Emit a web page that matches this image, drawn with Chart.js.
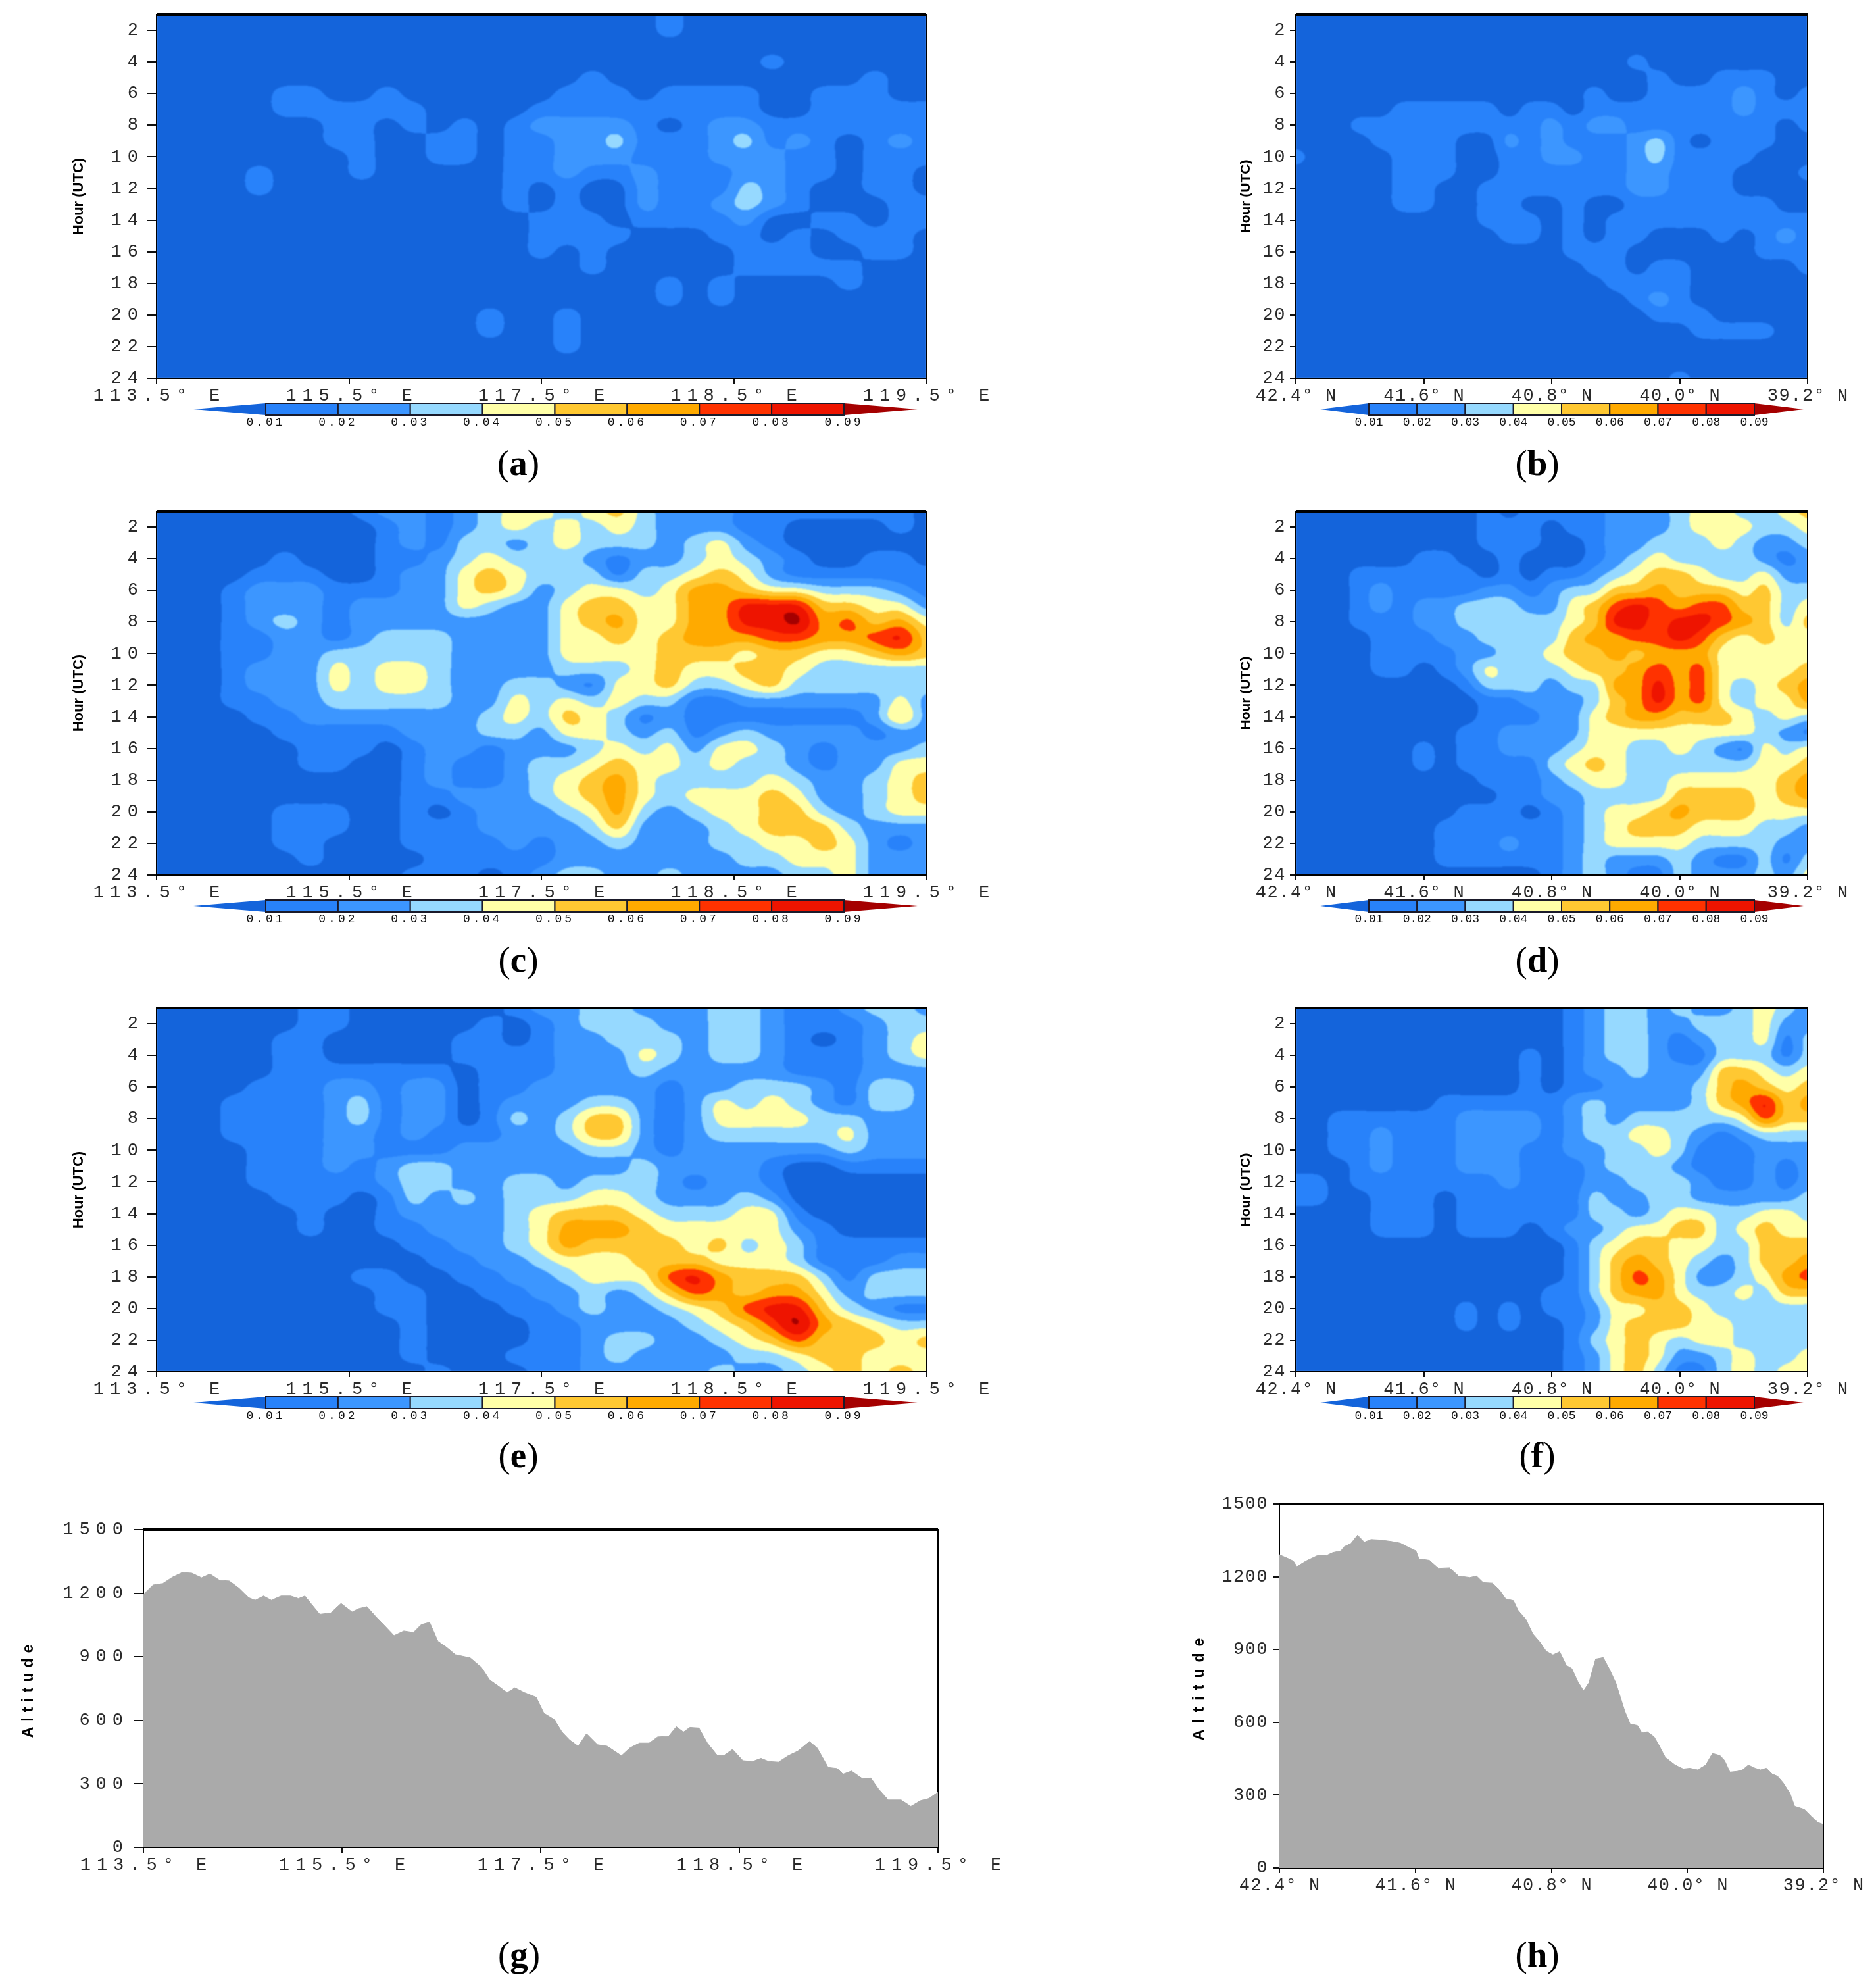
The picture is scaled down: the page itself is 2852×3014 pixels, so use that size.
<!DOCTYPE html>
<html>
<head>
<meta charset="utf-8">
<title>Hour-distance sections</title>
<script src="https://cdn.jsdelivr.net/npm/chart.js@4"></script>
<style>
  html, body { margin: 0; background: #fff; }
  #page { position: relative; width: 2852px; height: 3014px; overflow: hidden; }
  canvas { position: absolute; }
  .tag { position: absolute; transform: translate(-50%, -50%); font: 55px "Liberation Serif", serif; color: #000; }
</style>
</head>
<body>
<div id="page"></div>
<script>
// tick labels
const lonLabels = ['113.5° E', '115.5° E', '117.5° E', '118.5° E', '119.5° E'];
const latLabels = ['42.4° N', '41.6° N', '40.8° N', '40.0° N', '39.2° N'];
const hourTicks = [2, 4, 6, 8, 10, 12, 14, 16, 18, 20, 22, 24];
const altTicks = [0, 300, 600, 900, 1200, 1500];

// colour scale
const levels = [0.01, 0.02, 0.03, 0.04, 0.05, 0.06, 0.07, 0.08, 0.09];
const bandColors = ['#1464db', '#2882fa', '#3c96ff', '#96d9ff', '#ffffa8', '#ffc832', '#ffaa00', '#ff3200', '#ee1400', '#a50000'];

// one row per hour (1..24), one column per grid step along the section
// each number is the contour band: 3 means 0.03-0.04
const panelA = [
  [0,0,0,0,0,0,0,0,0,0, 0,0,0,0,0,0,0,0,0,0, 1,0,0,0,0,0,0,0,0,0, 0],
  [0,0,0,0,0,0,0,0,0,0, 0,0,0,0,0,0,0,0,0,0, 1,0,0,0,0,0,0,0,0,0, 0],
  [0,0,0,0,0,0,0,0,0,0, 0,0,0,0,0,0,0,0,0,0, 0,0,0,0,0,0,0,0,0,0, 0],
  [0,0,0,0,0,0,0,0,0,0, 0,0,0,0,0,0,0,0,0,0, 0,0,0,0,1,0,0,0,0,0, 0],
  [0,0,0,0,0,0,0,0,0,0, 0,0,0,0,0,0,0,1,0,0, 0,0,0,0,0,0,0,0,1,0, 0],
  [0,0,0,0,0,1,1,0,0,1, 0,0,0,0,0,0,1,1,1,0, 1,1,1,1,0,0,1,1,1,0, 0],
  [0,0,0,0,0,1,1,1,1,1, 1,0,0,0,0,1,1,1,1,1, 1,1,1,1,0,0,1,1,1,1, 1],
  [0,0,0,0,0,0,0,1,1,0, 1,0,1,0,1,2,2,2,2,1, 0,1,2,2,1,1,1,1,1,1, 1],
  [0,0,0,0,0,0,0,1,1,0, 0,1,1,0,1,1,2,2,3,1, 1,1,2,3,1,2,1,0,1,2, 1],
  [0,0,0,0,0,0,0,0,1,0, 0,1,1,0,1,1,2,2,2,1, 1,1,2,2,2,1,1,0,1,1, 1],
  [0,0,0,0,1,0,0,0,1,0, 0,0,0,0,1,1,2,1,1,2, 1,1,1,2,2,1,1,0,1,1, 0],
  [0,0,0,0,1,0,0,0,0,0, 0,0,0,0,1,0,1,0,0,2, 1,1,1,3,2,1,0,0,1,1, 0],
  [0,0,0,0,0,0,0,0,0,0, 0,0,0,0,1,0,1,0,0,2, 1,1,2,3,2,1,0,0,0,1, 1],
  [0,0,0,0,0,0,0,0,0,0, 0,0,0,0,0,1,1,1,0,1, 1,1,1,2,0,0,1,1,0,1, 1],
  [0,0,0,0,0,0,0,0,0,0, 0,0,0,0,0,1,1,1,1,0, 0,0,1,1,0,1,0,1,1,1, 0],
  [0,0,0,0,0,0,0,0,0,0, 0,0,0,0,0,1,0,1,0,0, 0,0,0,1,1,1,0,0,1,1, 0],
  [0,0,0,0,0,0,0,0,0,0, 0,0,0,0,0,0,0,1,0,0, 0,0,0,1,1,1,1,1,0,0, 0],
  [0,0,0,0,0,0,0,0,0,0, 0,0,0,0,0,0,0,0,0,0, 1,0,1,0,0,0,0,1,0,0, 0],
  [0,0,0,0,0,0,0,0,0,0, 0,0,0,0,0,0,0,0,0,0, 1,0,1,0,0,0,0,0,0,0, 0],
  [0,0,0,0,0,0,0,0,0,0, 0,0,0,1,0,0,1,0,0,0, 0,0,0,0,0,0,0,0,0,0, 0],
  [0,0,0,0,0,0,0,0,0,0, 0,0,0,1,0,0,1,0,0,0, 0,0,0,0,0,0,0,0,0,0, 0],
  [0,0,0,0,0,0,0,0,0,0, 0,0,0,0,0,0,1,0,0,0, 0,0,0,0,0,0,0,0,0,0, 0],
  [0,0,0,0,0,0,0,0,0,0, 0,0,0,0,0,0,0,0,0,0, 0,0,0,0,0,0,0,0,0,0, 0],
  [0,0,0,0,0,0,0,0,0,0, 0,0,0,0,0,0,0,0,0,0, 0,0,0,0,0,0,0,0,0,0, 0]
];
const panelB = [
  [0,0,0,0,0,0,0,0,0,0, 0,0,0,0,0,0,0,0,0,0, 0,0,0,0,0],
  [0,0,0,0,0,0,0,0,0,0, 0,0,0,0,0,0,0,0,0,0, 0,0,0,0,0],
  [0,0,0,0,0,0,0,0,0,0, 0,0,0,0,0,0,0,0,0,0, 0,0,0,0,0],
  [0,0,0,0,0,0,0,0,0,0, 0,0,0,0,0,0,1,0,0,0, 0,0,0,0,0],
  [0,0,0,0,0,0,0,0,0,0, 0,0,0,0,0,0,0,1,0,0, 1,1,1,0,0],
  [0,0,0,0,0,0,0,0,0,0, 0,0,0,0,1,0,0,1,1,1, 1,2,1,0,1],
  [0,0,0,0,0,1,1,1,1,1, 0,1,1,0,1,1,1,1,1,1, 1,2,1,1,1],
  [0,0,0,1,1,1,1,1,1,1, 1,1,2,1,2,2,1,1,1,1, 1,1,1,0,1],
  [0,0,0,0,1,1,1,1,0,0, 2,1,2,1,1,1,2,3,1,0, 1,1,1,0,0],
  [1,0,0,0,0,1,1,1,0,0, 1,1,2,2,1,1,2,3,1,1, 1,1,0,0,0],
  [0,0,0,0,0,1,1,1,0,0, 1,1,1,1,1,1,2,2,1,1, 1,0,0,0,1],
  [0,0,0,0,0,1,1,0,0,1, 1,1,1,1,1,1,2,2,1,1, 1,0,0,0,0],
  [0,0,0,0,0,1,1,0,0,1, 1,0,0,1,0,0,1,1,1,1, 1,1,1,0,0],
  [0,0,0,0,0,0,0,0,0,1, 1,1,0,1,0,1,1,1,1,1, 1,1,1,1,1],
  [0,0,0,0,0,0,0,0,0,0, 1,1,0,1,0,1,1,0,0,0, 1,0,1,2,1],
  [0,0,0,0,0,0,0,0,0,0, 0,0,0,1,1,1,0,0,0,0, 0,0,1,1,1],
  [0,0,0,0,0,0,0,0,0,0, 0,0,0,0,1,1,0,1,1,0, 0,0,0,0,1],
  [0,0,0,0,0,0,0,0,0,0, 0,0,0,0,0,1,1,1,1,0, 0,0,0,0,0],
  [0,0,0,0,0,0,0,0,0,0, 0,0,0,0,0,0,1,2,1,0, 0,0,0,0,0],
  [0,0,0,0,0,0,0,0,0,0, 0,0,0,0,0,0,0,1,1,1, 0,0,0,0,0],
  [0,0,0,0,0,0,0,0,0,0, 0,0,0,0,0,0,0,0,0,1, 1,1,1,0,0],
  [0,0,0,0,0,0,0,0,0,0, 0,0,0,0,0,0,0,0,0,0, 0,0,0,0,0],
  [0,0,0,0,0,0,0,0,0,0, 0,0,0,0,0,0,0,0,0,0, 0,0,0,0,0],
  [0,0,0,0,0,0,0,0,0,0, 0,0,0,0,0,0,0,0,1,0, 0,0,0,0,0]
];
const panelC = [
  [0,0,0,0,0,0,0,0,1,2, 2,1,2,3,4,4,3,4,5,3, 2,2,2,1,1,1,1,1,1,1, 0],
  [0,0,0,0,0,0,0,0,0,1, 2,1,2,3,4,3,4,3,4,3, 2,2,2,1,1,0,0,0,0,1, 0],
  [0,0,0,0,0,0,0,0,0,1, 2,1,3,3,2,3,4,3,3,3, 2,3,4,2,1,0,0,0,0,0, 0],
  [0,0,0,0,0,1,0,0,0,1, 1,2,3,4,3,3,3,2,1,2, 2,3,4,3,2,1,0,0,1,1, 0],
  [0,0,0,0,1,1,1,0,0,1, 2,2,4,5,4,3,3,3,1,3, 3,4,5,4,2,1,1,1,1,1, 1],
  [0,0,0,1,2,2,2,1,1,1, 2,2,4,5,4,2,3,4,4,3, 4,6,6,5,4,4,3,3,3,2, 1],
  [0,0,0,1,2,2,2,1,2,2, 2,2,4,3,2,2,4,5,5,4, 4,6,6,8,8,8,5,5,4,4, 2],
  [0,0,0,1,2,3,2,1,2,2, 2,2,2,2,2,2,4,5,6,4, 4,6,6,8,8,9,6,7,5,6, 4],
  [0,0,0,1,1,2,2,1,2,3, 3,3,2,2,2,2,4,4,5,4, 5,6,6,6,7,7,6,6,7,8, 5],
  [0,0,0,1,1,2,2,3,3,3, 3,3,2,2,2,2,4,4,4,4, 5,5,5,4,5,5,4,4,5,6, 5],
  [0,0,0,1,2,2,2,4,3,4, 4,3,2,2,2,2,3,3,3,4, 5,4,4,5,5,4,3,3,3,3, 3],
  [0,0,0,1,2,2,2,4,3,4, 4,3,2,2,3,3,2,1,4,4, 5,3,3,4,5,3,3,3,3,3, 3],
  [0,0,0,1,1,2,2,3,3,3, 3,3,2,2,4,3,4,3,4,3, 3,1,1,2,2,2,2,2,2,4, 2],
  [0,0,0,0,1,1,2,2,2,2, 2,2,2,3,4,3,5,4,3,1, 2,1,1,1,1,1,1,1,2,5, 2],
  [0,0,0,0,0,1,1,1,1,1, 2,2,2,3,3,2,4,4,3,2, 3,1,2,3,2,2,2,2,1,2, 2],
  [0,0,0,0,0,0,1,1,1,0, 1,2,2,1,2,2,2,3,4,3, 4,2,4,4,3,2,1,2,2,2, 3],
  [0,0,0,0,0,0,1,1,0,0, 1,2,1,1,2,3,3,4,5,4, 4,3,4,3,3,2,1,2,2,4, 4],
  [0,0,0,0,0,0,0,0,0,0, 1,2,1,1,2,3,4,5,6,4, 3,3,3,3,4,3,2,2,3,4, 5],
  [0,0,0,0,0,0,0,0,0,0, 1,1,2,2,2,3,4,5,6,4, 3,4,4,4,5,4,2,2,3,4, 5],
  [0,0,0,0,0,1,1,1,0,0, 1,0,1,2,2,2,3,4,6,3, 2,3,4,4,5,5,3,2,3,4, 4],
  [0,0,0,0,0,1,1,1,0,0, 1,1,1,2,2,2,2,3,5,2, 2,2,3,4,5,5,5,3,2,2, 2],
  [0,0,0,0,0,1,1,0,0,0, 1,1,1,1,2,1,2,2,3,2, 2,2,3,3,4,4,5,4,2,1, 2],
  [0,0,0,0,0,0,1,0,0,0, 0,1,1,1,1,1,2,2,2,2, 2,2,2,3,3,4,4,4,2,2, 2],
  [0,0,0,0,0,0,0,0,0,0, 1,1,1,0,1,2,3,3,2,2, 3,2,2,2,2,3,3,4,2,2, 2]
];
const panelD = [
  [0,0,0,0,0,0,0,0,0,1, 0,1,1,1,1,2,2,2,3,4, 4,3,3,4,5],
  [0,0,0,0,0,0,0,0,0,1, 1,1,0,1,1,2,2,2,3,4, 4,4,3,3,4],
  [0,0,0,0,0,0,0,0,0,1, 1,1,0,0,1,2,2,3,3,3, 4,3,2,2,3],
  [0,0,0,0,0,0,1,1,0,0, 1,0,0,0,1,2,3,4,3,3, 3,3,2,1,2],
  [0,0,0,1,1,1,1,1,1,0, 1,0,1,1,2,3,4,5,5,4, 3,3,4,2,2],
  [0,0,0,1,2,1,1,1,1,2, 2,1,2,3,3,5,5,6,5,5, 5,4,5,3,3],
  [0,0,0,1,2,1,2,2,3,3, 3,2,2,4,5,7,8,7,6,7, 7,5,5,3,4],
  [0,0,0,1,1,1,2,2,3,3, 3,3,3,4,5,8,8,7,8,8, 7,6,5,3,5],
  [0,0,0,0,1,1,1,2,2,3, 3,3,3,5,6,6,7,7,8,7, 5,4,5,4,4],
  [0,0,0,0,1,1,1,1,2,2, 3,3,4,5,5,6,5,6,6,6, 4,4,4,4,4],
  [0,0,0,0,1,1,0,1,2,4, 3,3,3,4,5,5,6,7,6,7, 4,4,4,4,5],
  [0,0,0,0,0,0,0,0,1,3, 3,3,2,3,3,6,6,8,6,7, 4,3,4,5,6],
  [0,0,0,0,0,0,0,0,0,1, 1,2,2,2,3,5,6,8,6,7, 4,3,4,4,6],
  [0,0,0,0,0,0,0,0,0,1, 1,1,2,2,4,5,6,6,5,5, 5,4,3,4,3],
  [0,0,0,0,0,0,0,0,1,1, 2,2,2,2,4,4,4,4,4,4, 4,4,3,2,1],
  [0,0,0,0,0,0,1,0,1,1, 2,2,2,3,4,4,3,3,4,3, 2,1,4,3,4],
  [0,0,0,0,0,0,1,0,1,1, 1,1,3,4,5,4,3,3,3,3, 3,3,4,4,5],
  [0,0,0,0,0,0,0,0,0,1, 1,1,2,3,4,4,3,3,4,4, 4,4,4,5,6],
  [0,0,0,0,0,0,0,0,0,0, 1,1,2,2,3,3,3,3,5,5, 5,5,4,5,6],
  [0,0,0,0,0,0,0,0,1,1, 1,0,1,2,3,4,4,5,6,5, 5,5,4,4,4],
  [0,0,0,0,0,0,0,1,1,1, 1,1,1,2,3,4,5,5,5,4, 4,4,3,3,2],
  [0,0,0,0,0,0,0,1,1,1, 2,1,1,2,3,4,4,4,4,3, 3,3,3,2,2],
  [0,0,0,0,0,0,0,1,1,1, 1,1,1,2,3,2,2,2,3,2, 1,1,3,1,3],
  [0,0,0,0,0,0,0,0,0,0, 0,0,1,2,3,2,1,1,3,2, 2,2,3,2,4]
];
const panelE = [
  [0,0,0,0,0,0,1,1,0,0, 0,0,0,0,1,2,2,3,3,2, 2,2,3,3,2,1,1,2,3,3, 2],
  [0,0,0,0,0,0,1,1,0,0, 0,0,0,1,0,1,2,3,3,3, 2,2,3,3,2,1,1,1,2,3, 3],
  [0,0,0,0,0,1,1,0,0,0, 0,0,1,1,0,1,2,2,3,3, 3,2,3,3,2,1,0,1,2,3, 4],
  [0,0,0,0,0,1,1,0,0,0, 0,0,1,1,1,1,2,2,2,4, 3,2,3,3,2,1,1,1,2,3, 4],
  [0,0,0,0,0,1,1,1,1,1, 1,1,0,1,1,1,2,2,2,3, 2,2,2,2,2,1,1,1,2,2, 2],
  [0,0,0,0,1,1,1,2,2,1, 2,2,0,1,1,2,2,2,2,2, 1,2,2,3,3,3,2,1,3,3, 2],
  [0,0,0,1,1,1,1,2,3,1, 2,2,0,1,2,2,2,3,3,2, 1,2,4,3,4,3,2,1,3,3, 2],
  [0,0,0,1,1,1,1,2,3,1, 2,2,0,1,3,2,3,5,5,2, 1,2,4,4,4,4,3,3,2,2, 2],
  [0,0,0,1,1,1,1,2,2,1, 2,1,1,1,2,2,3,5,5,2, 1,2,3,3,3,3,3,4,2,2, 2],
  [0,0,0,0,1,1,1,2,2,1, 1,1,2,2,2,2,2,3,3,2, 1,2,2,2,2,2,2,3,2,2, 2],
  [0,0,0,0,1,1,1,2,1,2, 3,3,2,2,2,2,2,2,2,3, 2,2,2,2,1,0,0,1,1,1, 1],
  [0,0,0,0,1,1,1,1,1,2, 3,3,2,2,3,3,2,3,3,3, 2,1,2,2,1,0,0,0,0,0, 0],
  [0,0,0,0,0,1,1,1,0,1, 3,2,3,2,3,3,3,4,4,3, 2,2,2,3,2,0,0,0,0,0, 0],
  [0,0,0,0,0,0,1,0,0,1, 2,2,2,2,3,4,5,5,5,4, 3,3,3,4,4,1,0,0,0,0, 0],
  [0,0,0,0,0,0,1,0,0,1, 1,2,2,2,3,4,6,6,6,5, 4,4,4,4,4,2,1,0,0,0, 0],
  [0,0,0,0,0,0,0,0,0,0, 1,1,2,2,3,4,6,5,5,5, 5,4,5,3,4,3,1,1,1,1, 1],
  [0,0,0,0,0,0,0,0,0,0, 0,1,1,2,2,3,4,4,4,5, 5,5,4,4,4,3,1,1,1,2, 2],
  [0,0,0,0,0,0,0,0,1,1, 0,0,1,1,2,2,3,4,4,4, 7,8,6,5,5,5,3,1,3,3, 3],
  [0,0,0,0,0,0,0,0,0,1, 1,0,0,1,1,2,2,3,2,3, 5,7,6,5,6,6,4,2,3,3, 3],
  [0,0,0,0,0,0,0,0,0,1, 1,0,0,0,1,1,2,3,2,2, 3,4,5,7,8,8,5,3,2,1, 1],
  [0,0,0,0,0,0,0,0,0,0, 1,0,0,0,0,1,1,2,2,2, 2,3,4,5,7,9,6,5,4,3, 3],
  [0,0,0,0,0,0,0,0,0,0, 1,0,0,0,0,1,1,2,3,3, 2,2,3,4,5,7,5,5,5,4, 5],
  [0,0,0,0,0,0,0,0,0,0, 1,0,0,0,1,1,1,2,3,2, 2,2,2,3,3,4,5,5,4,4, 4],
  [0,0,0,0,0,0,0,0,0,0, 0,1,0,0,0,1,1,2,2,2, 2,2,3,2,2,3,4,5,4,5, 4]
];
const panelF = [
  [0,0,0,0,0,0,0,0,0,0, 0,0,0,1,2,3,3,2,3,2, 2,3,4,3,2],
  [0,0,0,0,0,0,0,0,0,0, 0,0,0,1,2,3,3,2,2,3, 3,3,4,2,2],
  [0,0,0,0,0,0,0,0,0,0, 0,0,0,1,2,3,3,2,1,2, 3,3,4,1,3],
  [0,0,0,0,0,0,0,0,0,0, 0,1,0,1,2,3,3,2,1,1, 3,3,3,1,3],
  [0,0,0,0,0,0,0,0,0,0, 0,1,0,1,2,2,3,2,2,2, 5,5,4,3,4],
  [0,0,0,0,0,0,0,0,0,0, 0,1,0,1,1,2,2,2,2,3, 5,6,5,4,5],
  [0,0,0,0,0,0,0,1,1,1, 1,1,1,2,3,2,2,2,2,3, 5,6,8,5,6],
  [0,0,1,1,1,1,1,1,2,2, 2,2,1,2,3,2,3,3,3,3, 3,4,7,5,5],
  [0,0,1,1,2,1,1,1,2,2, 2,2,1,2,3,3,4,4,3,2, 1,2,3,3,3],
  [0,0,1,1,2,1,1,1,2,2, 2,1,1,2,2,3,3,4,3,1, 1,1,2,2,2],
  [0,0,0,1,2,1,1,1,2,2, 2,1,1,1,2,3,3,3,2,1, 1,1,2,1,2],
  [1,1,0,1,1,1,1,1,1,1, 2,1,1,1,2,2,3,3,3,2, 1,1,2,1,2],
  [1,1,0,0,1,1,1,0,1,1, 1,1,1,1,3,2,2,3,3,2, 2,2,2,2,3],
  [0,0,0,0,1,1,1,0,1,1, 1,1,1,1,3,3,2,3,4,4, 3,3,4,4,3],
  [0,0,0,0,1,1,1,0,1,1, 1,0,1,2,2,3,4,4,5,5, 3,4,5,4,4],
  [0,0,0,0,0,0,0,0,0,0, 0,0,0,1,3,4,5,5,4,4, 3,3,5,5,5],
  [0,0,0,0,0,0,0,0,0,0, 0,0,0,1,3,5,6,5,4,3, 2,3,5,5,6],
  [0,0,0,0,0,0,0,0,0,0, 0,0,0,1,3,5,7,6,4,2, 2,3,4,6,7],
  [0,0,0,0,0,0,0,0,0,0, 0,0,1,1,3,5,6,6,4,3, 3,4,3,5,5],
  [0,0,0,0,0,0,0,0,1,0, 1,0,1,1,2,4,4,5,5,4, 3,3,3,3,3],
  [0,0,0,0,0,0,0,0,1,0, 1,0,0,1,2,4,5,5,5,4, 4,3,3,3,3],
  [0,0,0,0,0,0,0,0,0,0, 0,0,0,1,3,4,5,4,3,4, 4,3,3,3,3],
  [0,0,0,0,0,0,0,0,0,0, 0,0,0,1,2,4,5,4,2,2, 3,4,3,3,4],
  [0,0,0,0,0,0,0,0,0,0, 0,0,0,1,2,4,5,3,1,1, 3,4,3,4,4]
];

// terrain profiles: steps along the section and altitude (m)
const terrainGSteps = [0,15,30,45,60,75,90,103,118,133,148,163,173,186,198,213,228,240,250,260,273,290,306,323,333,346,360,374,388,403,418,430,443,456,468,483,506,523,536,550,563,575,590,608,620,636,648,660,673,686,703,718,740,753,768,783,796,813,825,836,846,860,873,888,898,912,928,943,956,968,983,998,1013,1031,1043,1060,1074,1083,1096,1113,1126,1138,1153,1173,1188,1203,1216,1230];
const terrainG = [1194,1239,1246,1276,1298,1295,1273,1291,1261,1258,1224,1179,1167,1187,1167,1187,1187,1175,1187,1149,1101,1107,1152,1112,1127,1137,1089,1045,1000,1022,1015,1052,1063,973,948,910,895,851,791,761,731,754,731,709,634,604,545,507,478,537,485,478,433,470,493,493,522,525,570,545,567,564,493,436,433,463,410,406,421,406,403,433,455,500,470,378,373,346,361,325,328,276,224,224,194,221,231,261];
const terrainHSteps = [0,21,31,39,59,84,104,119,137,144,159,174,189,204,224,249,269,289,304,311,334,354,379,399,424,439,454,474,489,504,521,531,549,564,579,594,609,624,639,651,664,677,689,704,721,734,749,769,781,797,807,819,834,844,859,881,899,914,931,949,964,981,991,1003,1019,1031,1044,1059,1071,1084,1097,1109,1121,1137,1147,1169,1184,1199,1211];
const terrainH = [1291,1274,1265,1242,1265,1287,1287,1300,1307,1324,1337,1372,1343,1354,1352,1346,1339,1320,1307,1274,1268,1235,1237,1203,1197,1203,1176,1174,1148,1109,1102,1063,1024,965,933,893,878,891,835,822,770,730,763,861,867,822,763,646,593,587,557,561,541,509,456,424,408,411,404,424,472,463,443,395,398,404,424,411,404,411,387,378,352,306,254,241,213,187,179];

const rgb = bandColors.map(c => [1, 3, 5].map(i => parseInt(c.slice(i, i + 2), 16)));

// mix of catmull-rom and b-spline: follows the grid but rounds off the corners
function cubic(a, b, c, d, t) {
  const t2 = t * t, t3 = t2 * t;
  const cr = b + 0.5 * t * (c - a + t * (2 * a - 5 * b + 4 * c - d + t * (3 * (b - c) + d - a)));
  const bs = ((1 - t) * (1 - t) * (1 - t) * a + (3 * t3 - 6 * t2 + 4) * b + (-3 * t3 + 3 * t2 + 3 * t + 1) * c + t3 * d) / 6;
  return 0.6 * cr + 0.4 * bs;
}
function sampleGrid(grid, row, col) {
  const nr = grid.length, nc = grid[0].length;
  const r0 = Math.min(Math.floor(row), nr - 2), c0 = Math.min(Math.floor(col), nc - 2);
  const tr = row - r0, tc = col - c0;
  const rows = [];
  for (let r = r0 - 1; r <= r0 + 2; r++) {
    const line = grid[Math.max(0, Math.min(nr - 1, r))];
    const at = c => line[Math.max(0, Math.min(nc - 1, c))] + 0.5;
    rows.push(cubic(at(c0 - 1), at(c0), at(c0 + 1), at(c0 + 2), tc));
  }
  return cubic(rows[0], rows[1], rows[2], rows[3], tr);
}

function drawContours(chart, grid) {
  const { left, top, width, height } = chart.chartArea;
  const xs = chart.scales.x, ys = chart.scales.y;
  const nc = grid[0].length;
  const off = document.createElement('canvas');
  off.width = width; off.height = height;
  const octx = off.getContext('2d');
  const img = octx.createImageData(width, height);
  for (let py = 0; py < height; py++) {
    const row = ys.getValueForPixel(top + py + 0.5) - 1;
    for (let px = 0; px < width; px++) {
      const col = xs.getValueForPixel(left + px + 0.5) / 4 * (nc - 1);
      const band = Math.max(0, Math.min(9, Math.floor(sampleGrid(grid, Math.max(0, row), Math.max(0, col)))));
      const k = (py * width + px) * 4;
      img.data[k] = rgb[band][0];
      img.data[k + 1] = rgb[band][1];
      img.data[k + 2] = rgb[band][2];
      img.data[k + 3] = 255;
    }
  }
  octx.putImageData(img, 0, 0);
  const ctx = chart.ctx;
  ctx.save();
  ctx.beginPath();
  ctx.rect(left, top, width, height);
  ctx.clip();
  ctx.filter = 'blur(0.8px)';
  ctx.drawImage(off, left, top);
  ctx.restore();
}

function drawFrame(chart) {
  const { left, right, top, bottom } = chart.chartArea;
  const ctx = chart.ctx;
  ctx.save();
  ctx.strokeStyle = '#000';
  ctx.lineWidth = 2;
  ctx.strokeRect(left, top, right - left, bottom - top);
  ctx.lineWidth = 4;
  ctx.beginPath();
  ctx.moveTo(left, top);
  ctx.lineTo(right, top);
  ctx.stroke();
  ctx.restore();
}

function drawColorbar(chart, bar) {
  const { left, bottom } = chart.chartArea;
  const ctx = chart.ctx;
  const x0 = left + bar.start, x1 = left + bar.end;
  const y0 = bottom + 38, y1 = bottom + 56, ym = (y0 + y1) / 2;
  const step = (x1 - x0) / (levels.length - 1);
  ctx.save();
  ctx.lineWidth = 2;
  ctx.strokeStyle = '#1a1a2a';
  ctx.fillStyle = bandColors[0];
  ctx.beginPath();
  ctx.moveTo(left + bar.tipL, ym); ctx.lineTo(x0, y0); ctx.lineTo(x0, y1); ctx.closePath();
  ctx.fill();
  ctx.fillStyle = bandColors[9];
  ctx.beginPath();
  ctx.moveTo(left + bar.tipR, ym); ctx.lineTo(x1, y0); ctx.lineTo(x1, y1); ctx.closePath();
  ctx.fill();
  for (let i = 0; i < levels.length - 1; i++) {
    ctx.fillStyle = bandColors[i + 1];
    ctx.fillRect(x0 + i * step, y0, step, y1 - y0);
    ctx.strokeRect(x0 + i * step, y0, step, y1 - y0);
  }
  ctx.fillStyle = '#111';
  ctx.font = '18px "Liberation Mono"';
  ctx.letterSpacing = bar.spacing + 'px';
  ctx.textAlign = 'center';
  ctx.textBaseline = 'middle';
  levels.forEach((v, i) => ctx.fillText(v.toFixed(2), x0 + i * step, y1 + 11));
  ctx.restore();
}

// side title drawn here because each one has its own letter spacing
function drawSideTitle(chart, t) {
  const ctx = chart.ctx;
  const a = chart.chartArea;
  ctx.save();
  ctx.translate(t.x, (a.top + a.bottom) / 2);
  ctx.rotate(-Math.PI / 2);
  ctx.font = t.font;
  ctx.letterSpacing = t.spacing + 'px';
  ctx.fillStyle = '#000';
  ctx.textAlign = 'center';
  ctx.textBaseline = 'middle';
  ctx.fillText(t.text, 0, 0);
  ctx.restore();
}

function decorPlugin(cfg) {
  return {
    id: 'decor',
    beforeDraw(chart) { chart.ctx.letterSpacing = cfg.spacing + 'px'; },
    beforeDatasetsDraw(chart) {
      chart.ctx.letterSpacing = '0px';
      if (cfg.grid) drawContours(chart, cfg.grid);
      else drawFrame(chart);
    },
    afterDraw(chart) {
      chart.ctx.letterSpacing = '0px';
      if (cfg.grid) { drawFrame(chart); drawColorbar(chart, cfg.bar); }
      drawSideTitle(chart, cfg.title);
    }
  };
}

function addCanvas(box) {
  const c = document.createElement('canvas');
  c.width = box.padL + box.w + box.padR;
  c.height = box.padT + box.h + box.padB;
  c.style.left = (box.x - box.padL) + 'px';
  c.style.top = (box.y - box.padT) + 'px';
  document.getElementById('page').appendChild(c);
  return c;
}

function axisBase(box, cfg, tickValues, label, isX) {
  return {
    type: 'linear',
    afterBuildTicks: s => { s.ticks = tickValues.map(v => ({ value: v })); },
    afterFit: s => {
      if (isX) s.height = box.padB; else s.width = box.padL;
      s.paddingTop = s.paddingBottom = s.paddingLeft = s.paddingRight = 0;
    },
    border: { display: false },
    grid: {
      drawOnChartArea: false,
      color: '#111',
      lineWidth: 2,
      tickLength: isX ? cfg.tickX : cfg.tickY
    },
    ticks: {
      autoSkip: false,
      maxRotation: 0,
      minRotation: 0,
      padding: isX ? 3 : cfg.padY,
      labelOffset: isX ? cfg.spacing / 2 : 0,
      color: '#2a2a2a',
      font: { family: '"Liberation Mono"', size: 27 },
      callback: label
    }
  };
}

function heatChart(box, grid, xLabels, cfg) {
  const cells = [];
  grid.forEach((line, r) => line.forEach((k, c) => {
    cells.push({ x: c / (line.length - 1) * 4, y: r + 1, v: (k + 0.5) / 100 });
  }));
  new Chart(addCanvas(box), {
    type: 'scatter',
    data: { datasets: [{ data: cells, pointRadius: 0 }] },
    plugins: [decorPlugin({ grid, bar: cfg.bar, spacing: cfg.spacing, title: cfg.title })],
    options: {
      responsive: false,
      animation: false,
      devicePixelRatio: 1,
      events: [],
      layout: { padding: { top: box.padT, right: box.padR } },
      plugins: { legend: { display: false }, tooltip: { enabled: false } },
      scales: {
        x: { ...axisBase(box, cfg, [0, 1, 2, 3, 4], v => xLabels[v], true), min: 0, max: 4 },
        y: { ...axisBase(box, cfg, hourTicks, v => v, false), min: 1, max: 24, reverse: true }
      }
    }
  });
}

function terrainChart(box, steps, heights, xLabels, cfg) {
  const last = steps[steps.length - 1];
  const xTicks = xLabels.map((_, i) => i / 4 * last);
  new Chart(addCanvas(box), {
    type: 'line',
    data: {
      datasets: [{
        data: steps.map((s, i) => ({ x: s, y: heights[i] })),
        borderColor: '#aaaaaa',
        borderWidth: 1,
        backgroundColor: '#aaaaaa',
        fill: 'origin',
        pointRadius: 0,
        tension: 0,
        clip: false
      }]
    },
    plugins: [decorPlugin({ spacing: cfg.spacing, title: cfg.title })],
    options: {
      responsive: false,
      animation: false,
      devicePixelRatio: 1,
      events: [],
      layout: { padding: { top: box.padT, right: box.padR } },
      plugins: { legend: { display: false }, tooltip: { enabled: false } },
      scales: {
        x: { ...axisBase(box, cfg, xTicks, v => xLabels[Math.round(v / last * 4)], true), min: 0, max: last },
        y: { ...axisBase(box, cfg, altTicks, v => v, false), min: 0, max: 1500 }
      }
    }
  });
}

function hourTitle(x, wide) {
  return { text: 'Hour (UTC)', x, font: 'bold ' + (wide ? 22 : 21) + 'px "Liberation Sans"', spacing: 0 };
}
const barWide = { tipL: 56, start: 166, end: 1045, tipR: 1157, spacing: 4 };
const barNarrow = { tipL: 37, start: 111, end: 697, tipR: 772, spacing: 0 };
const wideCfg = { spacing: 9, tickX: 8, tickY: 15, padY: 4, bar: barWide, title: hourTitle(32, true) };
const narrowCfg = { spacing: 1.5, tickX: 8, tickY: 9, padY: 6, bar: barNarrow, title: hourTitle(14, false) };

const rowTops = [22, 777, 1532];
const leftGrids = [panelA, panelC, panelE];
const rightGrids = [panelB, panelD, panelF];
rowTops.forEach((top, i) => {
  heatChart({ x: 238, y: top, w: 1170, h: 553, padL: 150, padR: 125, padT: 12, padB: 100 }, leftGrids[i], lonLabels, wideCfg);
  heatChart({ x: 1970, y: top, w: 778, h: 553, padL: 90, padR: 104, padT: 12, padB: 100 }, rightGrids[i], latLabels, narrowCfg);
});

terrainChart({ x: 218, y: 2325, w: 1208, h: 483, padL: 200, padR: 125, padT: 20, padB: 60 }, terrainGSteps, terrainG, lonLabels,
  { spacing: 9, tickX: 8, tickY: 14, padY: 8, title: { text: 'Altitude', x: 26, font: 'bold 23px "Liberation Sans"', spacing: 8 } });
terrainChart({ x: 1945, y: 2286, w: 827, h: 553, padL: 140, padR: 80, padT: 20, padB: 60 }, terrainHSteps, terrainH, latLabels,
  { spacing: 1.5, tickX: 8, tickY: 9, padY: 8, title: { text: 'Altitude', x: 19, font: 'bold 23px "Liberation Sans"', spacing: 10 } });

// panel letters under each chart
const tagLetters = ['a', 'b', 'c', 'd', 'e', 'f', 'g', 'h'];
const tagX = [788, 2337, 788, 2337, 788, 2337, 789, 2337];
const tagY = [703, 703, 1458, 1458, 2211, 2211, 2970, 2970];
tagLetters.forEach((t, i) => {
  const d = document.createElement('div');
  d.className = 'tag';
  d.style.left = tagX[i] + 'px';
  d.style.top = tagY[i] + 'px';
  d.innerHTML = '(<b>' + t + '</b>)';
  document.getElementById('page').appendChild(d);
});
</script>
</body>
</html>
